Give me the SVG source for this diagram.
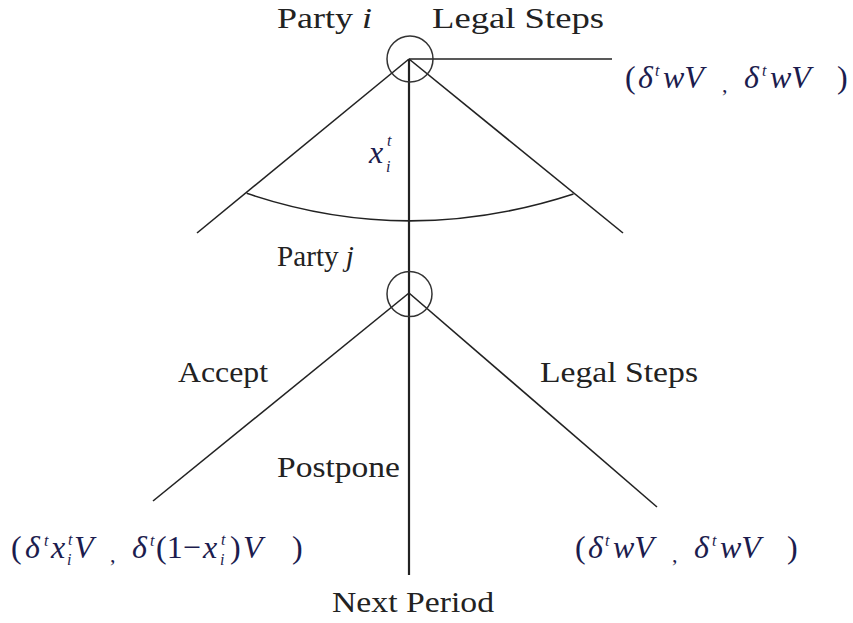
<svg xmlns="http://www.w3.org/2000/svg" width="853" height="623" viewBox="0 0 853 623">
<style>
.ln{stroke:#222;stroke-width:1.6;fill:none}
.vt{stroke:#222;stroke-width:2.2;fill:none}
.nd{stroke:#333;stroke-width:1.5;fill:none}
.lb{font-family:'Liberation Serif',serif;font-size:29px;fill:#222}
.m{font-family:'Liberation Serif',serif;font-size:32px;fill:#1c1c4e;font-style:italic}
.up{font-style:normal}
.sm{font-size:16px}
.cm{font-size:22px;font-style:normal}
</style>
<rect width="853" height="623" fill="#fff"/>
<g id="connectors">
<line class="vt" x1="409" y1="59" x2="409" y2="575"/>
<line class="ln" x1="409" y1="59" x2="612" y2="59"/>
<line class="ln" x1="409" y1="59" x2="197" y2="233"/>
<line class="ln" x1="409" y1="59" x2="623" y2="233"/>
<path class="ln" d="M246.7,193.3 Q408,248 573.5,194"/>
<line class="ln" x1="409" y1="293" x2="153" y2="501"/>
<line class="ln" x1="409" y1="293" x2="657" y2="507"/>
</g>
<g id="node-party-i">
<circle class="nd" cx="410" cy="59" r="23"/>
<text class="lb" x="277" y="28" textLength="95" lengthAdjust="spacingAndGlyphs">Party <tspan font-style="italic">i</tspan></text>
</g>
<g id="node-party-j">
<circle class="nd" cx="409.5" cy="294" r="22.5"/>
<text class="lb" x="277" y="266" textLength="77" lengthAdjust="spacingAndGlyphs">Party <tspan font-style="italic">j</tspan></text>
</g>
<g id="labels">
<text class="lb" x="432" y="28" textLength="172" lengthAdjust="spacingAndGlyphs">Legal Steps</text>
<text class="lb" x="178" y="382" textLength="90" lengthAdjust="spacingAndGlyphs">Accept</text>
<text class="lb" x="540" y="382" textLength="158" lengthAdjust="spacingAndGlyphs">Legal Steps</text>
<text class="lb" x="277" y="477" textLength="123" lengthAdjust="spacingAndGlyphs">Postpone</text>
<text class="lb" x="332" y="612" textLength="162" lengthAdjust="spacingAndGlyphs">Next Period</text>
</g>
<g id="math">
<text class="m" x="369" y="163">x<tspan class="sm" x="387" y="146">t</tspan><tspan class="sm" x="386" y="172">i</tspan></text>
<text class="m" y="88"><tspan class="up" x="625">(</tspan><tspan x="638">δ</tspan><tspan class="sm" x="655" y="76">t</tspan><tspan x="663" y="88">wV</tspan><tspan class="cm" x="722" y="92">,</tspan><tspan x="744" y="88">δ</tspan><tspan class="sm" x="762" y="76">t</tspan><tspan x="770" y="88">wV</tspan><tspan class="up" x="837">)</tspan></text>
<text class="m" y="558"><tspan class="up" x="11">(</tspan><tspan x="25">δ</tspan><tspan class="sm" x="44" y="546">t</tspan><tspan x="51" y="558">x</tspan><tspan class="sm" x="68" y="545">t</tspan><tspan class="sm" x="67" y="565">i</tspan><tspan x="74" y="558">V</tspan><tspan class="cm" x="110" y="562">,</tspan><tspan x="132" y="558">δ</tspan><tspan class="sm" x="150" y="546">t</tspan><tspan class="up" x="156" y="558">(1−</tspan><tspan x="203">x</tspan><tspan class="sm" x="221" y="545">t</tspan><tspan class="sm" x="220" y="565">i</tspan><tspan class="up" x="230" y="558">)</tspan><tspan x="243">V</tspan><tspan class="up" x="292">)</tspan></text>
<text class="m" y="558"><tspan class="up" x="575">(</tspan><tspan x="588">δ</tspan><tspan class="sm" x="605" y="546">t</tspan><tspan x="613" y="558">wV</tspan><tspan class="cm" x="672" y="562">,</tspan><tspan x="694" y="558">δ</tspan><tspan class="sm" x="712" y="546">t</tspan><tspan x="720" y="558">wV</tspan><tspan class="up" x="787">)</tspan></text>
</g>
</svg>
